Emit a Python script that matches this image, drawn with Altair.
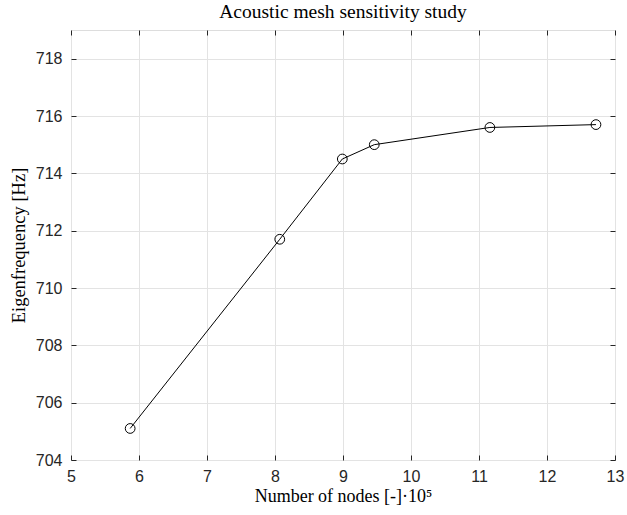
import altair as alt
import pandas as pd

nodes = [5.87, 8.07, 8.99, 9.46, 11.16, 12.72]
freq = [705.1, 711.7, 714.5, 715.0, 715.6, 715.7]

x_ticks = [5, 6, 7, 8, 9, 10, 11, 12, 13]
y_ticks = [704, 706, 708, 710, 712, 714, 716, 718]

df = pd.DataFrame({"nodes": nodes, "freq": freq})

SANS = "Liberation Sans"
SERIF = "Liberation Serif"
TICK = 5
xs = alt.Scale(domain=[5, 13], nice=False, zero=False)
ys = alt.Scale(domain=[704, 719], nice=False, zero=False)

base = alt.Chart(df)

x_main = alt.X("nodes:Q", scale=xs, axis=alt.Axis(
    values=x_ticks, grid=True, gridColor="#e3e3e3", domain=False,
    offset=-TICK, tickSize=TICK, tickColor="#262626", tickWidth=1,
    labelFont=SANS, labelFontSize=16, labelColor="#262626", labelPadding=8,
    labelFlush=False,
    title="Number of nodes [-]·10⁵", titleFont=SERIF, titleFontSize=18,
    titleFontWeight="normal", titleColor="#000000", titlePadding=3))
y_main = alt.Y("freq:Q", scale=ys, axis=alt.Axis(
    values=y_ticks, grid=True, gridColor="#e3e3e3", domain=False,
    offset=-TICK, tickSize=TICK, tickColor="#262626", tickWidth=1,
    labelFont=SANS, labelFontSize=16, labelColor="#262626", labelPadding=9,
    labelFlush=False,
    title="Eigenfrequency [Hz]", titleFont=SERIF, titleFontSize=18.5,
    titleFontWeight="normal", titleColor="#000000", titlePadding=7))

line = base.mark_line(color="black", strokeWidth=1).encode(x=x_main, y=y_main)
pts = base.mark_point(shape="circle", size=95, filled=False, color="black",
                      strokeWidth=1, opacity=1).encode(x=alt.X("nodes:Q", scale=xs, axis=None),
                                                         y=alt.Y("freq:Q", scale=ys, axis=None))

def tick_axis(orient, vals):
    return alt.Axis(orient=orient, offset=-TICK, values=vals, tickSize=TICK, tickColor="#262626",
                    tickWidth=1, labels=False, domain=False, grid=False, title="")

t_top = base.mark_point(opacity=0).encode(
    x=alt.X("nodes:Q", scale=xs, axis=tick_axis("top", x_ticks)),
    y=alt.Y("freq:Q", scale=ys, axis=None))
t_right = base.mark_point(opacity=0).encode(
    x=alt.X("nodes:Q", scale=xs, axis=None),
    y=alt.Y("freq:Q", scale=ys, axis=tick_axis("right", y_ticks)))

chart = alt.layer(line, pts, t_top, t_right).resolve_axis(
    x="independent", y="independent"
).properties(
    width=544, height=430,
    title=alt.TitleParams("Acoustic mesh sensitivity study", font=SERIF, fontSize=19.5,
                          fontWeight="normal", color="#000000", offset=7),
    autosize=alt.AutoSizeParams(type="none"),
    padding={"left": 71, "top": 30, "right": 12, "bottom": 55},
).configure_view(stroke="#262626", strokeWidth=1).configure(background="white")

chart.save("out.html", embed_options={"renderer": "svg", "actions": False})
